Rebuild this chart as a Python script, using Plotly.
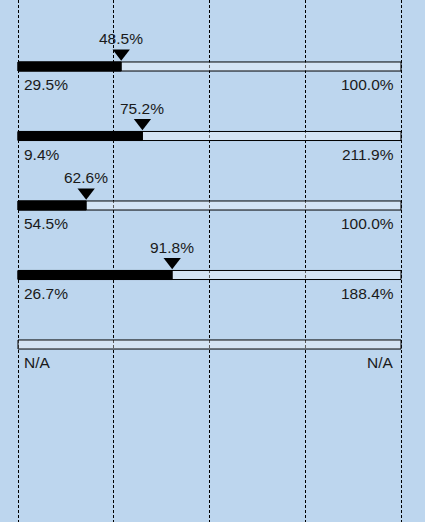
import plotly.graph_objects as go

rows = [0, 1, 2, 3, 4]
min_vals = [29.5, 9.4, 54.5, 26.7, None]
max_vals = [100.0, 211.9, 100.0, 188.4, None]
cur_vals = [48.5, 75.2, 62.6, 91.8, None]

BG = "rgb(189,214,238)"
FONT = "Liberation Sans, Arial, sans-serif"

def norm(v, lo, hi):
    return (v - lo) / (hi - lo)

fig = go.Figure()

# background (range) bars
fig.add_trace(go.Bar(
    y=rows, x=[1] * len(rows), base=0, orientation="h", width=0.13,
    marker=dict(color="rgba(255,255,255,0.35)", line=dict(color="black", width=1)),
    hoverinfo="skip", showlegend=False,
))

ys, xs = [], []
for r, lo, hi, v in zip(rows, min_vals, max_vals, cur_vals):
    if v is None:
        continue
    ys.append(r)
    xs.append(norm(v, lo, hi))

# filled bars
fig.add_trace(go.Bar(
    y=ys, x=xs, base=0, orientation="h", width=0.13,
    marker=dict(color="black", line=dict(color="black", width=1)),
    hoverinfo="skip", showlegend=False,
))

# markers
fig.add_trace(go.Scatter(
    x=xs, y=[r - 0.19 for r in ys], mode="markers",
    marker=dict(symbol="triangle-down", size=15, color="black"),
    hoverinfo="skip", showlegend=False,
))

ann = []
tf = dict(family=FONT, size=15.5, color="#1a1a1a")
for r, lo, hi, v in zip(rows, min_vals, max_vals, cur_vals):
    if v is not None:
        ann.append(dict(x=norm(v, lo, hi), y=r, text=f"{v:.1f}%", showarrow=False,
                        xanchor="center", yanchor="middle", yshift=28, font=tf))
        ann.append(dict(x=0, y=r, text=f"{lo:.1f}%", showarrow=False,
                        xanchor="left", yanchor="middle", yshift=-18, xshift=4, font=tf))
        ann.append(dict(x=1, y=r, text=f"{hi:.1f}%", showarrow=False,
                        xanchor="right", yanchor="middle", yshift=-18, xshift=-5, font=tf))
    else:
        ann.append(dict(x=0, y=r, text="N/A", showarrow=False,
                        xanchor="left", yanchor="middle", yshift=-18, xshift=4, font=tf))
        ann.append(dict(x=1, y=r, text="N/A", showarrow=False,
                        xanchor="right", yanchor="middle", yshift=-18, xshift=-5, font=tf))

fig.update_layout(
    width=425, height=522,
    margin=dict(l=0, r=0, t=0, b=0),
    paper_bgcolor=BG, plot_bgcolor=BG,
    barmode="overlay",
    annotations=ann,
    font=dict(family=FONT),
    xaxis=dict(range=[-18 / 383, 407 / 383], showgrid=True, gridcolor="black",
               gridwidth=1, griddash="3px,2px", tick0=0, dtick=0.25,
               showticklabels=False, zeroline=False, showline=False, ticks=""),
    yaxis=dict(range=[455.5 / 69.5, -66.5 / 69.5], showgrid=False,
               showticklabels=False, zeroline=False, showline=False, ticks=""),
)

fig.write_html(
    "out.html",
    config={"displayModeBar": False},
    post_script="document.body.style.margin='0';document.body.style.padding='0';"
                "document.body.style.overflow='hidden';",
)
